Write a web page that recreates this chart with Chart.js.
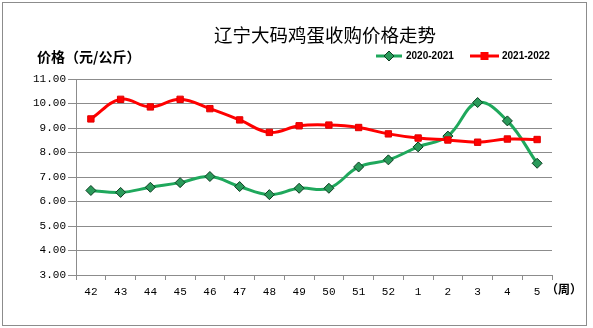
<!DOCTYPE html>
<html>
<head>
<meta charset="utf-8">
<script src="https://cdn.jsdelivr.net/npm/chart.js@4/dist/chart.umd.min.js"></script>
<style>
  body { margin: 0; background: #fff; }
  canvas { display: block; }
</style>
</head>
<body>
<canvas id="Egg" width="593" height="328"></canvas>
<script>
// weeks (周)
var weeks = ['42', '43', '44', '45', '46', '47', '48', '49', '50', '51', '52', '1', '2', '3', '4', '5'];
// 2020-2021 season, 元/公斤
var price2020 = [6.45, 6.37, 6.58, 6.77, 7.02, 6.61, 6.28, 6.54, 6.54, 7.41, 7.70, 8.23, 8.67, 10.04, 9.29, 7.56];
// 2021-2022 season
var price2021 = [9.37, 10.17, 9.86, 10.17, 9.79, 9.33, 8.82, 9.09, 9.12, 9.02, 8.76, 8.59, 8.51, 8.42, 8.55, 8.53];
var seriesNames = ['2020-2021', '2021-2022'];

var GREEN = '#1fa85c';
var RED = '#ff0000';
var GRID = '#8c8c8c';
var tickFont = { family: 'Liberation Mono', size: 11 };

// frame, titles and legend drawn by hand (Excel look)
var decor = {
  id: 'decor',
  beforeDraw: function (chart) {
    var c = chart.ctx;
    c.save();
    c.fillStyle = '#fff';
    c.fillRect(0, 0, chart.width, chart.height);
    c.strokeStyle = GRID;
    c.lineWidth = 1;
    c.strokeRect(2.5, 2.5, 584, 323);
    c.restore();
  },
  afterDraw: function (chart) {
    var c = chart.ctx;
    c.save();
    c.fillStyle = '#000';
    c.textBaseline = 'middle';
    c.textAlign = 'center';
    c.font = '18.5px "Noto Sans CJK SC"';
    c.fillText('辽宁大码鸡蛋收购价格走势', 325, 35);
    c.textAlign = 'left';
    c.font = 'bold 14px "Noto Sans CJK SC"';
    c.fillText('价格（元/公斤）', 37, 57);
    c.font = 'bold 12px "Noto Sans CJK SC"';
    c.fillText('（周）', 546, 289);

    // legend
    c.lineWidth = 3;
    c.strokeStyle = GREEN;
    c.beginPath(); c.moveTo(376, 56); c.lineTo(402, 56); c.stroke();
    c.fillStyle = '#2a9a5a';
    c.strokeStyle = '#0b3d20';
    c.lineWidth = 1;
    c.beginPath();
    c.moveTo(389, 51); c.lineTo(394, 56); c.lineTo(389, 61); c.lineTo(384, 56); c.closePath();
    c.fill(); c.stroke();

    c.lineWidth = 3;
    c.strokeStyle = RED;
    c.beginPath(); c.moveTo(470, 56); c.lineTo(499, 56); c.stroke();
    c.fillStyle = RED;
    c.fillRect(480.5, 52, 8, 8);

    c.fillStyle = '#000';
    c.font = 'bold 10px "Liberation Sans"';
    c.fillText(seriesNames[0], 406, 56.5);
    c.fillText(seriesNames[1], 502, 56.5);
    c.restore();
  }
};

var ctx = document.getElementById('Egg').getContext('2d');
var eggChart = new Chart(ctx, {
  type: 'line',
  data: {
    labels: weeks,
    datasets: [{
      label: seriesNames[0],
      data: price2020,
      borderColor: GREEN,
      borderWidth: 3,
      backgroundColor: '#2a9a5a',
      pointStyle: 'rectRot',
      pointRadius: 5,
      pointBorderColor: '#0b3d20',
      pointBorderWidth: 1,
      tension: 0.4,
      order: 1
    }, {
      label: seriesNames[1],
      data: price2021,
      borderColor: RED,
      borderWidth: 3,
      backgroundColor: RED,
      pointStyle: 'rect',
      pointRadius: 4.5,
      pointBorderColor: '#e00000',
      pointBorderWidth: 1,
      tension: 0.4,
      order: 0
    }]
  },
  options: {
    responsive: false,
    animation: false,
    layout: { padding: { left: 0, top: 79, right: 41, bottom: 0 } },
    plugins: {
      legend: { display: false },
      title: { display: false },
      tooltip: { enabled: false }
    },
    scales: {
      x: {
        offset: true,
        grid: { offset: true, drawOnChartArea: false, drawTicks: true, tickLength: 5, color: GRID },
        border: { color: GRID },
        ticks: { color: '#000', font: tickFont, padding: 5, maxRotation: 0, autoSkip: false },
        afterFit: function (s) { s.height = 53; }
      },
      y: {
        min: 3,
        max: 11,
        grid: { color: GRID, tickLength: 8 },
        border: { color: GRID },
        ticks: {
          stepSize: 1,
          color: '#000',
          font: tickFont,
          padding: 2,
          callback: function (v) { return v.toFixed(2); }
        },
        afterFit: function (s) { s.width = 76; }
      }
    }
  },
  plugins: [decor]
});
</script>
</body>
</html>
